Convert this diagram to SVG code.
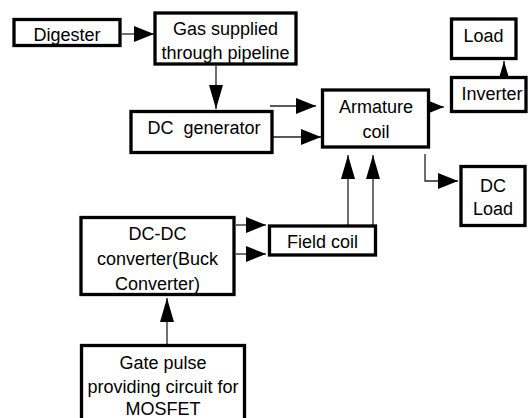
<svg xmlns="http://www.w3.org/2000/svg" width="528" height="418" viewBox="0 0 528 418">
<style>
.box{fill:#fff;stroke:#000;stroke-width:3.3}
.t{font-family:"Liberation Sans",Arial,sans-serif;font-size:18px;fill:#000;text-anchor:middle}
.c{fill:none;stroke:#222;stroke-width:1.3}
.h{marker-end:url(#ah)}
.v{marker-end:url(#av)}
</style>
<defs>
<marker id="ah" markerUnits="userSpaceOnUse" markerWidth="20" markerHeight="16" refX="20" refY="8" orient="auto"><path d="M0,0 L20,8 L0,16 z" fill="#000"/></marker>
<marker id="av" markerUnits="userSpaceOnUse" markerWidth="24" markerHeight="14" refX="24" refY="7" orient="auto"><path d="M0,0 L24,7 L0,14 z" fill="#000"/></marker>
</defs>
<rect width="528" height="418" fill="#fff"/>
<g id="connectors">
<line class="c h" x1="122" y1="34" x2="154" y2="34"/>
<line class="c v" x1="216" y1="66" x2="216" y2="109"/>
<line class="c h" x1="270" y1="106" x2="316" y2="106"/>
<line class="c h" x1="272" y1="137" x2="321" y2="137"/>
<line class="c h" x1="423" y1="107" x2="444" y2="107"/>
<polyline class="c h" points="425,154 425,181 458,181"/>
<line class="c v" x1="504" y1="86" x2="504" y2="61"/>
<line class="c v" x1="348" y1="225" x2="348" y2="155"/>
<line class="c v" x1="373" y1="225" x2="373" y2="155"/>
<line class="c h" x1="236" y1="225" x2="266" y2="225"/>
<line class="c h" x1="236" y1="254" x2="266" y2="254"/>
<line class="c v" x1="167" y1="345" x2="167" y2="298"/>
</g>
<g id="digester"><rect class="box" x="14" y="19.5" width="106" height="26"/><text class="t" x="67" y="41">Digester</text></g>
<g id="gas"><rect class="box" x="155" y="13" width="141" height="51"/><text class="t" x="225.5" y="35">Gas supplied</text><text class="t" x="225.5" y="59">through pipeline</text></g>
<g id="dcgen"><rect class="box" x="131" y="111.5" width="141" height="41"/><text class="t" x="204" y="134" style="white-space:pre">DC  generator</text></g>
<g id="armature"><rect class="box" x="322.5" y="90" width="106" height="57"/><text class="t" x="376" y="113">Armature</text><text class="t" x="376" y="138">coil</text></g>
<g id="load"><rect class="box" x="451.5" y="19" width="64.5" height="39.5"/><text class="t" x="483.5" y="42">Load</text></g>
<g id="inverter"><rect class="box" x="451.5" y="77.5" width="74.5" height="34"/><text class="t" x="492" y="100">Inverter</text></g>
<g id="dcload"><rect class="box" x="461" y="166.5" width="64" height="59"/><text class="t" x="493" y="192">DC</text><text class="t" x="493" y="215">Load</text></g>
<g id="fieldcoil"><rect class="box" x="269.5" y="226" width="106" height="29"/><text class="t" x="322.5" y="248">Field coil</text></g>
<g id="dcdc"><rect class="box" x="81" y="217.5" width="153" height="77"/><text class="t" x="157.5" y="240">DC-DC</text><text class="t" x="157.5" y="265">converter(Buck</text><text class="t" x="157.5" y="290">Converter)</text></g>
<g id="gate"><rect class="box" x="81.5" y="345.5" width="163" height="80"/><text class="t" x="163" y="369">Gate pulse</text><text class="t" x="163" y="393">providing circuit for</text><text class="t" x="163" y="415">MOSFET</text></g>
</svg>
